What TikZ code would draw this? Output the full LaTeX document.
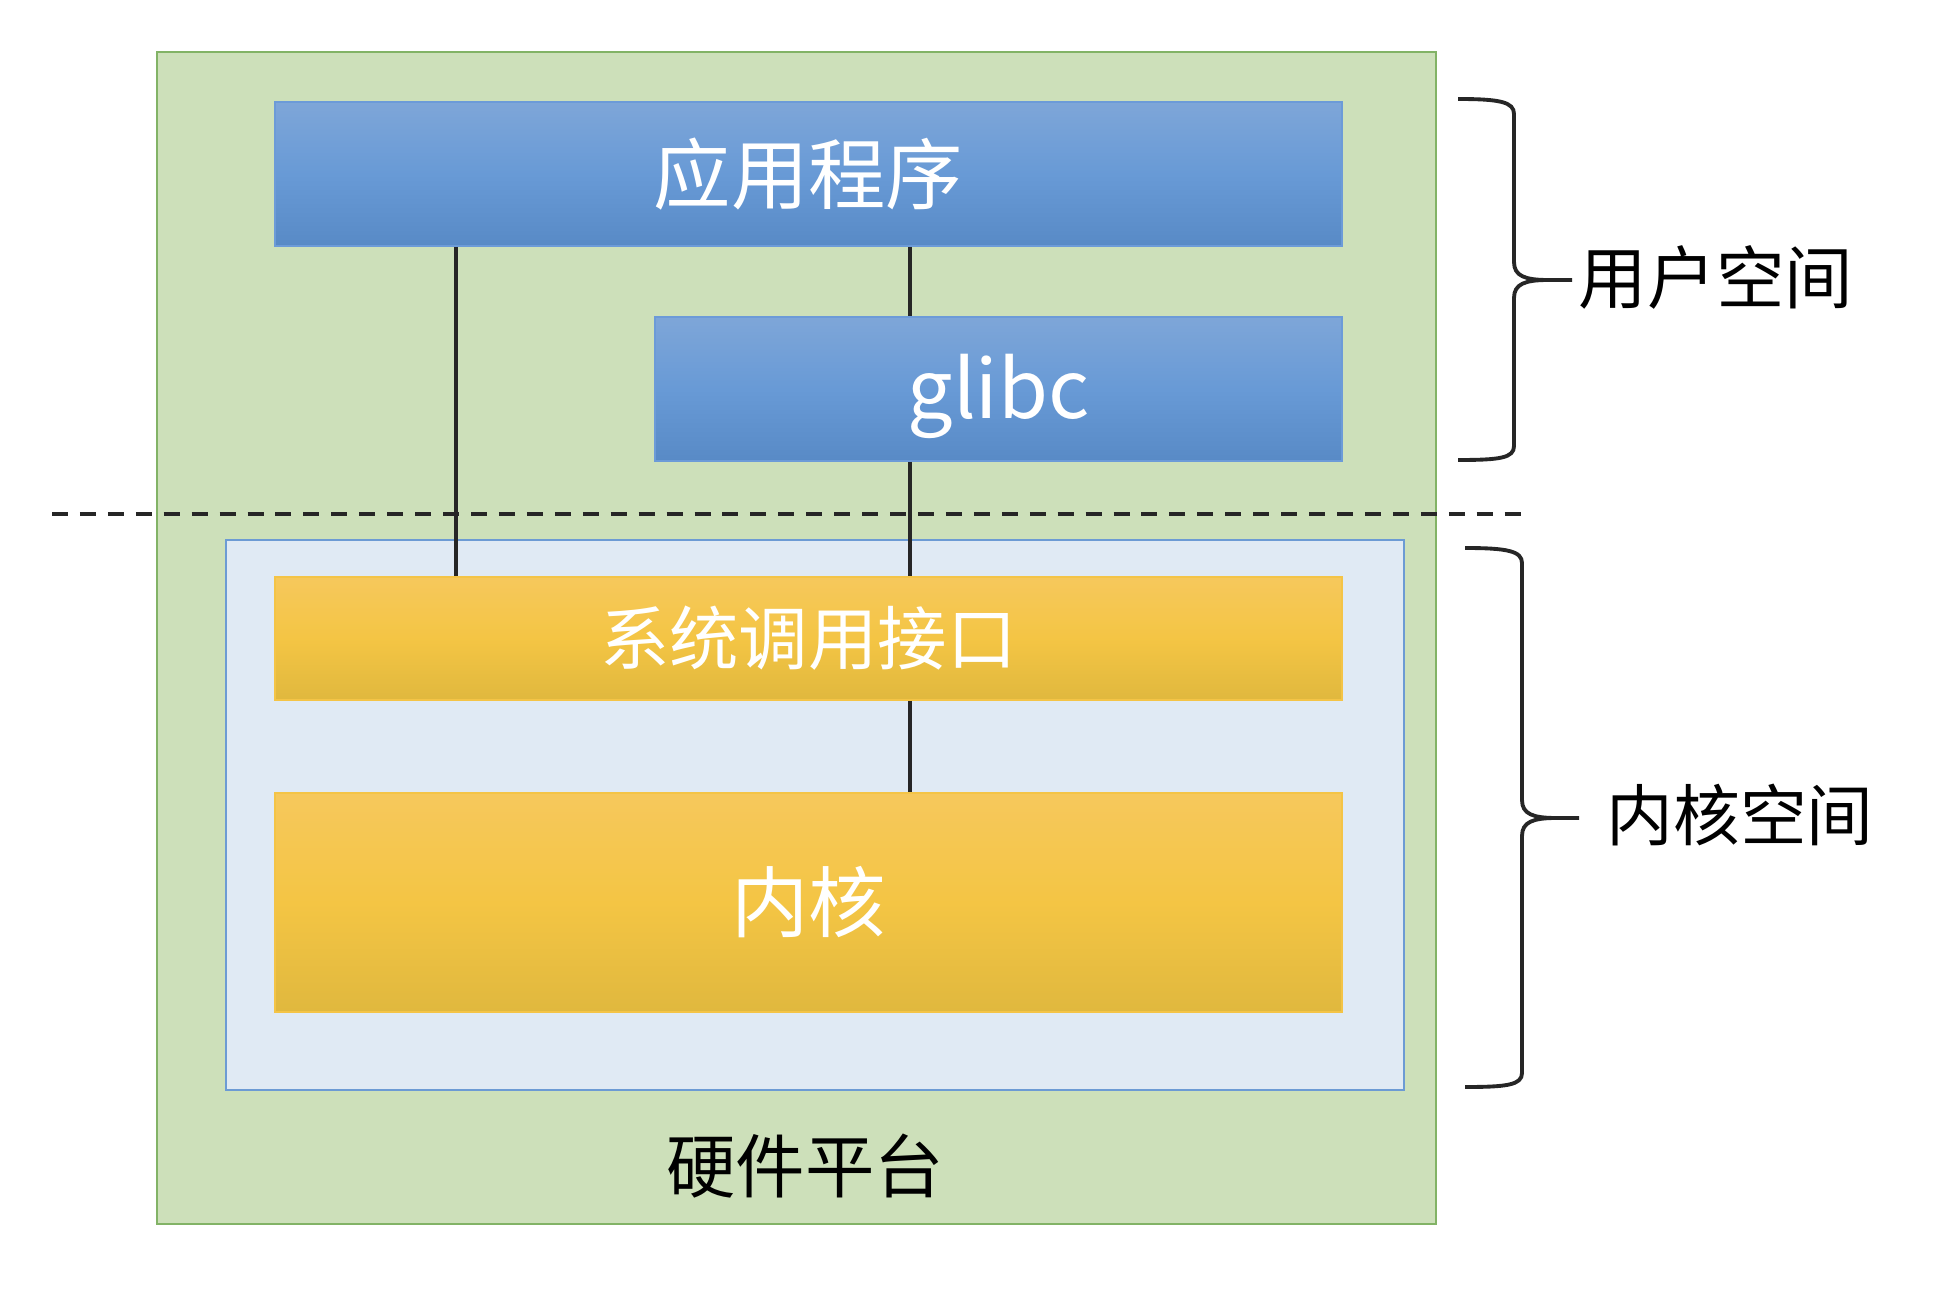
\documentclass[tikz,border=0pt]{standalone}
\usepackage{fontspec}
\setmainfont{Noto Sans CJK SC}
\definecolor{hwfill}{RGB}{205,224,186}
\definecolor{hwline}{RGB}{130,179,102}
\definecolor{ksfill}{RGB}{224,234,244}
\definecolor{ksline}{RGB}{108,155,212}
\definecolor{usertop}{RGB}{126,166,216}
\definecolor{usermid}{RGB}{104,154,214}
\definecolor{userbot}{RGB}{88,138,198}
\definecolor{userline}{RGB}{108,155,216}
\definecolor{kerntop}{RGB}{246,200,92}
\definecolor{kernmid}{RGB}{244,197,68}
\definecolor{kernbot}{RGB}{224,184,62}
\definecolor{kernline}{RGB}{244,196,70}
\definecolor{ink}{RGB}{38,38,38}
\tikzset{
  layer/.style={line width=1.1pt,anchor=north west,inner sep=0pt,text=white},
  userbox/.style={layer,draw=userline,top color=usertop,bottom color=userbot,middle color=usermid},
  kernbox/.style={layer,draw=kernline,top color=kerntop,bottom color=kernbot,middle color=kernmid},
  link/.style={draw=ink,line width=2.3pt},
  spacebrace/.style={draw=ink,line width=2.2pt,line join=round},
  sidelabel/.style={text=black,font=\fontsize{39}{44}\selectfont}
}
\begin{document}
\begin{tikzpicture}[x=0.02cm,y=-0.02cm]
\useasboundingbox (0,0) rectangle (1934,1290);
% hardware frame and kernel area
\node[layer,draw=hwline,fill=hwfill,minimum width=25.58cm,minimum height=23.44cm] (hw) at (156,51) {};
\node[layer,draw=ksline,fill=ksfill,minimum width=23.56cm,minimum height=11cm] (ks) at (225,539) {};
% layers
\node[userbox,minimum width=21.34cm,minimum height=2.88cm,font=\fontsize{44}{48}\selectfont] (app) at (274,101) {应用程序};
\node[userbox,minimum width=13.74cm,minimum height=2.88cm,text height=34pt,text depth=0pt,font=\fontsize{46}{50}\selectfont] (glibc) at (654,316) {glibc};
\node[kernbox,minimum width=21.34cm,minimum height=2.46cm,font=\fontsize{39.5}{44}\selectfont] (sys) at (274,576) {系统调用接口};
\node[kernbox,minimum width=21.34cm,minimum height=4.38cm,font=\fontsize{44}{48}\selectfont] (kern) at (274,792) {内核};
\node[text=black,font=\fontsize{39.5}{44}\selectfont] (hwlabel) at (805,1166) {硬件平台};
% calls
\coordinate (tapL) at (456,0);
\coordinate (tapR) at (910,0);
\draw[link] (app.south -| tapL) -- (sys.north -| tapL);
\draw[link] (app.south -| tapR) -- (glibc.north -| tapR);
\draw[link] (glibc.south -| tapR) -- (sys.north -| tapR);
\draw[link] (sys.south -| tapR) -- (kern.north -| tapR);
% user / kernel boundary
\draw[draw=ink,line width=2.3pt,dash pattern=on 9.1pt off 6.8pt] (52,514) -- (1522,514);
% braces
\draw[spacebrace] (1458,99) .. controls (1500,99) and (1514,102) .. (1514,114) -- (1514,262)
  .. controls (1514,276) and (1525,280) .. (1548,280) -- (1572,280);
\draw[spacebrace] (1548,280) .. controls (1525,280) and (1514,284) .. (1514,298) -- (1514,446)
  .. controls (1514,458) and (1500,460) .. (1458,460);
\draw[spacebrace] (1465,548) .. controls (1507,548) and (1522,551) .. (1522,563) -- (1522,800)
  .. controls (1522,814) and (1533,818) .. (1556,818) -- (1579,818);
\draw[spacebrace] (1556,818) .. controls (1533,818) and (1522,822) .. (1522,836) -- (1522,1073)
  .. controls (1522,1085) and (1507,1087) .. (1465,1087);
\node[sidelabel] (userspace) at (1716,277) {用户空间};
\node[sidelabel,font=\fontsize{38}{44}\selectfont] (kernelspace) at (1740,815) {内核空间};
\end{tikzpicture}
\end{document}
